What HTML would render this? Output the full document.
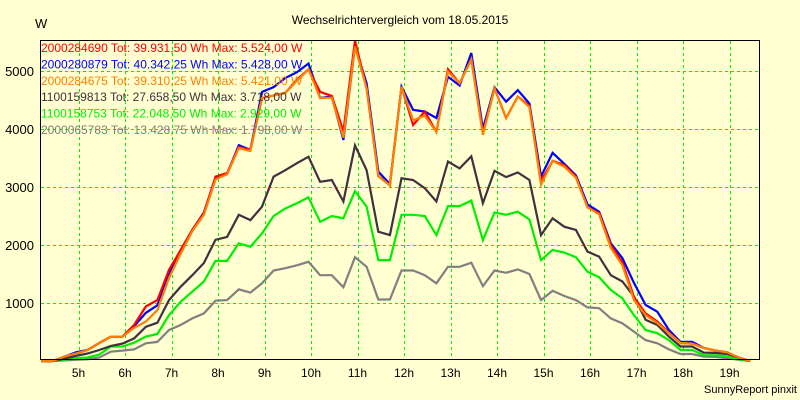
<!DOCTYPE html>
<html><head><meta charset="utf-8"><style>
body{margin:0;background:#ffffd2;}
svg{display:block;font-family:"Liberation Sans",sans-serif;}
</style></head><body>
<svg width="800" height="400">
<rect x="0" y="0" width="800" height="400" fill="#ffffd2"/>
<text x="400" y="24" text-anchor="middle" font-size="12" fill="#000">Wechselrichtervergleich vom 18.05.2015</text>
<text x="35" y="28" font-size="13" fill="#000">W</text>
<text x="797" y="393" text-anchor="end" font-size="11" fill="#000">SunnyReport pinxit</text>
<g id="grid" shape-rendering="crispEdges"></g>
<g id="axes"></g>
<g id="series"></g>
<rect x="40.5" y="40.5" width="719" height="319" fill="none" stroke="#000" stroke-width="1" shape-rendering="crispEdges"/>
<g id="legend"></g>
</svg>
<script>
const startHour = 4.25;
const stepHour = 0.25;
const xTicks = [5,6,7,8,9,10,11,12,13,14,15,16,17,18,19];
const yTicks = [1000,2000,3000,4000,5000];
const red = [0,0,75,130,190,310,420,420,620,940,1050,1570,1910,2260,2550,3180,3240,3690,3640,4535,4580,4620,4850,5030,4640,4570,3960,5524,4700,3190,3030,4730,4070,4300,3950,5030,4790,5200,3930,4700,4190,4560,4400,3100,3450,3380,3180,2650,2550,2000,1700,1100,820,680,490,310,300,225,180,150,60,0];
const blue = [0,0,75,150,190,310,420,420,600,830,960,1500,1910,2260,2560,3150,3220,3720,3640,4640,4720,4880,4980,5130,4535,4560,3810,5428,4790,3265,3050,4730,4330,4300,4190,4900,4750,5310,4000,4720,4470,4670,4440,3180,3590,3400,3200,2700,2575,2030,1775,1345,965,850,535,330,330,225,180,150,60,0];
const orange = [0,0,75,130,190,310,420,420,570,680,880,1430,1850,2240,2520,3130,3220,3670,3620,4535,4580,4620,4830,5030,4535,4540,3850,5421,4700,3190,3030,4730,4150,4230,3950,4990,4790,5200,3900,4700,4190,4560,4380,3040,3450,3350,3160,2650,2530,1950,1650,1050,790,655,480,310,300,225,180,150,60,0];
const dark = [0,0,40,90,130,190,260,300,390,590,660,1050,1280,1480,1690,2090,2140,2520,2430,2660,3180,3290,3410,3520,3090,3120,2750,3718,3290,2230,2170,3150,3120,2980,2750,3440,3320,3530,2720,3280,3170,3250,3120,2170,2460,2315,2260,1885,1800,1480,1370,1110,710,620,420,250,250,145,140,120,60,0];
const green = [0,0,20,50,60,110,250,250,315,420,465,790,1020,1195,1370,1725,1725,2030,1970,2200,2500,2630,2720,2820,2400,2500,2460,2929,2660,1740,1740,2520,2520,2500,2170,2670,2670,2765,2085,2560,2520,2575,2440,1740,1915,1870,1790,1540,1445,1225,1080,790,535,480,360,190,190,100,100,80,30,0];
const gray = [0,0,10,20,30,60,160,180,200,305,330,535,620,735,820,1040,1050,1235,1180,1340,1560,1600,1650,1710,1480,1480,1270,1790,1625,1060,1060,1560,1560,1480,1340,1625,1625,1695,1290,1560,1520,1580,1500,1050,1210,1120,1050,925,910,735,650,505,360,305,200,120,120,75,70,50,20,0];
const legendLabels = ["2000284690 Tot: 39.931,50 Wh Max: 5.524,00 W","2000280879 Tot: 40.342,25 Wh Max: 5.428,00 W","2000284675 Tot: 39.310,25 Wh Max: 5.421,00 W","1100159813 Tot: 27.658,50 Wh Max: 3.718,00 W","1100158753 Tot: 22.048,50 Wh Max: 2.929,00 W","2000065783 Tot: 13.428,75 Wh Max: 1.798,00 W"];

const NS="http://www.w3.org/2000/svg";
function xScale(h){return 78.5+(h-5)*46.5;}
function yScale(v){return 361-v*0.058;}
function ptX(i){return xScale(startHour+i*stepHour)-2.5;}
function mk(tag,attrs,parent){const e=document.createElementNS(NS,tag);for(const k in attrs)e.setAttribute(k,attrs[k]);parent.appendChild(e);return e;}
const grid=document.getElementById('grid'),axes=document.getElementById('axes'),ser=document.getElementById('series'),leg=document.getElementById('legend');
xTicks.forEach(h=>{
  const x=Math.round(xScale(h))+0.5;
  const l=mk('line',{x1:x,y1:41,x2:x,y2:359,stroke:'#00ee00','stroke-dasharray':'3,3'},grid);
  
  
  const t=mk('text',{x:xScale(h),y:377,'text-anchor':'middle','font-size':'12',fill:'#000'},axes);
  t.textContent=h+'h';
  
  
});
yTicks.forEach(v=>{
  const y=Math.round(yScale(v))+0.5;
  const l=mk('line',{x1:41,y1:y,x2:760,y2:y,stroke:'#00ee00','stroke-dasharray':'3,3'},grid);
  
  
  const t=mk('text',{x:34,y:yScale(v)+5,'text-anchor':'end','font-size':'13',fill:'#000'},axes);
  t.textContent=v;
  
  
});
const order=[[gray,'#808080','series-2000065783'],[green,'#00ee00','series-1100158753'],[dark,'#403040','series-1100159813'],[blue,'#0000ff','series-2000280879'],[red,'#ff0000','series-2000284690'],[orange,'#ff8000','series-2000284675']];
order.forEach(([arr,c,n])=>{
  const d=arr.map((v,i)=>(i?'L':'M')+ptX(i).toFixed(1)+','+yScale(v).toFixed(1)).join(' ');
  const p=mk('path',{d:d,fill:'none',stroke:c,'stroke-width':'2.2','stroke-linejoin':'miter'},ser);
  
  
});
const legColors=['#ff0000','#0000ff','#ff8000','#403040','#00ee00','#808080'];
legendLabels.forEach((s,i)=>{
  const t=mk('text',{x:41,y:52+i*16.4,'font-size':'12',fill:legColors[i]},leg);
  t.textContent=s;
  
  
});
</script>
</body></html>
